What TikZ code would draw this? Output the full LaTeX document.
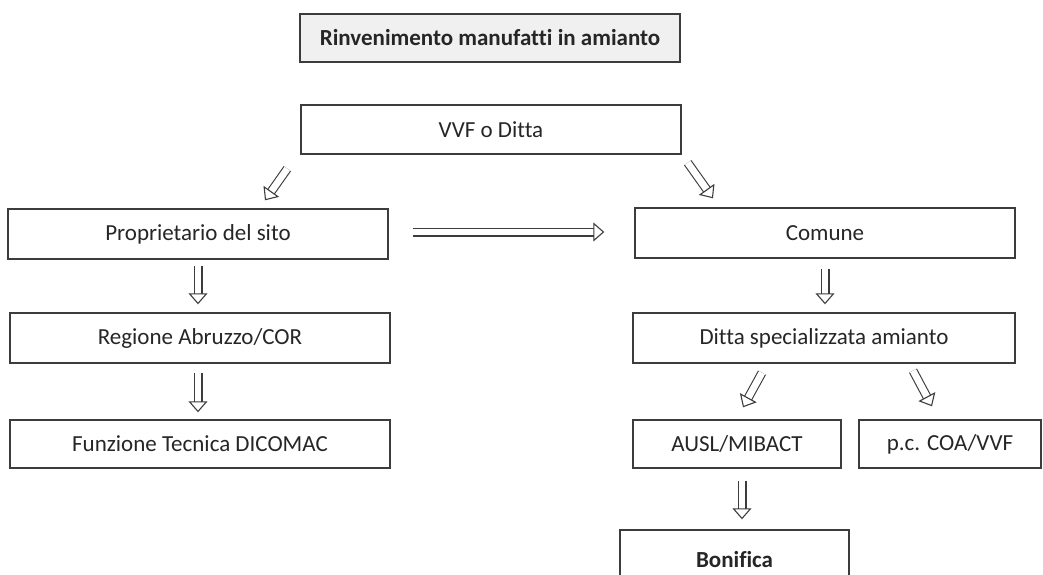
\documentclass[tikz,border=0pt]{standalone}
\usepackage{fontspec}
\setmainfont{Carlito}[Ligatures=NoCommon]
\usetikzlibrary{arrows.meta, positioning, calc}

\definecolor{boxline}{HTML}{3C3C3C}
\definecolor{titlefill}{HTML}{F0F0F0}

\begin{document}
\begin{tikzpicture}[
    x=0.5pt, y=-0.5pt,
    box/.style={draw=boxline, line width=0.7pt, rectangle, inner sep=2pt,
                font=\fontsize{11.5}{13}\selectfont, text=black!85,
                minimum width=190pt, minimum height=25pt},
    hollow/.style={draw=boxline, line width=0.55pt, double=white,
                   double distance=3.4pt,
                   -{Triangle[open, length=5.5pt, width=9.5pt, line width=0.55pt]}}
  ]
  \clip (0,0) rectangle (1043,574);
  \fill[white] (0,0) rectangle (1043,574);

  % intestazione
  \node[box, fill=titlefill, font=\fontsize{11.5}{13}\selectfont\bfseries,
        minimum height=24pt] (titolo) at (490,38) {Rinvenimento manufatti in amianto};
  \node[box, minimum height=24.5pt] (vvf) at (491,129.5) {VVF o Ditta};

  % ramo sinistro
  \node[box] (prop) at (198,234) {Proprietario del sito};
  \node[box] (regione) at (200,338) {Regione Abruzzo/COR};
  \node[box, minimum height=24pt] (funzione) at (200,444) {Funzione Tecnica DICOMAC};

  % ramo destro
  \node[box] (comune) at (825,233) {Comune};
  \node[box, minimum width=191pt] (ditta) at (824,338) {Ditta specializzata amianto};
  \node[box, minimum width=104pt, minimum height=24pt] (ausl) at (737,444) {AUSL/MIBACT};
  \node[box, minimum width=91pt, minimum height=24pt] (pc) at (950,444) {p.c. COA/VVF};
  \node[box, minimum width=114.5pt, minimum height=30pt,
        font=\fontsize{11.5}{13}\selectfont\bfseries] (bonifica) at (734.5,560) {Bonifica};

  % frecce
  \draw[hollow] ($(vvf.south west)+(-13,14)$) -- ($(prop.north)+(67,-8)$);
  \draw[hollow] ($(vvf.south east)+(6,8)$) -- ($(comune.north)+(-112,-9)$);
  \draw[hollow] ($(prop.east)+(24,-2)$) -- ($(comune.west)+(-30,-1)$);
  \draw[hollow] ($(prop.south)+(0,6)$) -- ($(prop.south |- regione.north)+(0,-8)$);
  \draw[hollow] ($(regione.south)+(-2,9)$) -- ($(funzione.north)+(-2,-7)$);
  \draw[hollow] ($(comune.south)+(0,10)$) -- ($(comune.south |- ditta.north)+(0,-8)$);
  \draw[hollow] ($(ditta.south)+(-62,9)$) -- ($(ausl.north)+(6,-12)$);
  \draw[hollow] ($(ditta.south)+(89,7)$) -- ($(pc.north)+(-18,-13)$);
  \draw[hollow] ($(ausl.south)+(5,12)$) -- ($(ausl.south |- bonifica.north)+(5,-10)$);
\end{tikzpicture}
\end{document}
